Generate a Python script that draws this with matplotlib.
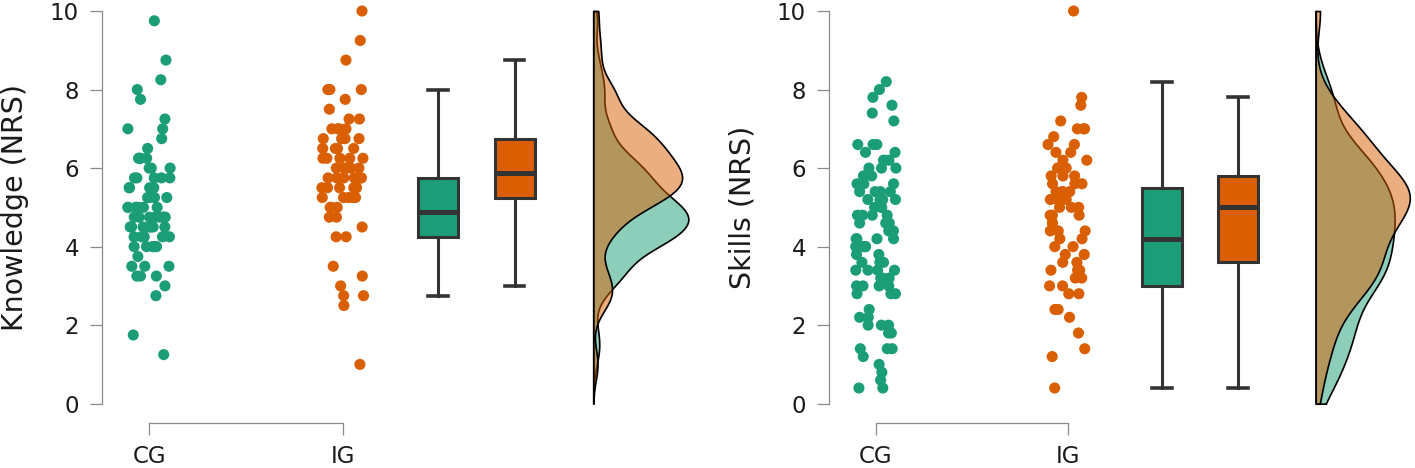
import numpy as np
import matplotlib
matplotlib.use("Agg")
import matplotlib.pyplot as plt

# ---------------- data ----------------
groups = ["CG", "IG"]
colors = ["#1b9e77", "#d95f02"]
ylabels = ["Knowledge (NRS)", "Skills (NRS)"]
yticks = [0, 2, 4, 6, 8, 10]

knowledge_cg = [9.75, 8.75, 8.25, 8.0, 7.75, 7.25, 7.0, 7.0, 6.75, 6.5,
                6.25, 6.25, 6.25, 6.25, 6.0, 6.0, 6.0,
                5.75, 5.75, 5.75, 5.75, 5.75, 5.5, 5.5, 5.5, 5.5,
                5.25, 5.25, 5.25, 5.25, 5.25,
                5.0, 5.0, 5.0, 5.0, 5.0, 5.0, 5.0,
                4.75, 4.75, 4.75, 4.75, 4.75, 4.75, 4.75, 4.75,
                4.5, 4.5, 4.5, 4.5, 4.5, 4.5, 4.5,
                4.25, 4.25, 4.25, 4.25, 4.25, 4.25,
                4.0, 4.0, 4.0, 4.0, 4.0, 4.0,
                3.75, 3.5, 3.5, 3.5, 3.25, 3.25, 3.25, 3.0, 2.75, 1.75, 1.25]

knowledge_ig = [10.0, 9.25, 8.75, 8.0, 8.0, 8.0, 7.75, 7.5, 7.25, 7.25,
                7.0, 7.0, 7.0, 7.0, 6.75, 6.75, 6.75, 6.75,
                6.5, 6.5, 6.5, 6.5, 6.25, 6.25, 6.25, 6.25, 6.25,
                6.0, 6.0, 6.0, 6.0, 6.0,
                5.75, 5.75, 5.75, 5.75, 5.75, 5.75,
                5.5, 5.5, 5.5, 5.5, 5.5, 5.5,
                5.25, 5.25, 5.25, 5.25, 5.25, 5.0, 5.0, 5.0,
                4.75, 4.75, 4.5, 4.25, 4.25,
                3.5, 3.25, 3.0, 2.75, 2.75, 2.5, 1.0]

skills_cg = [8.2, 8.0, 7.8, 7.6, 7.4, 7.2,
             6.6, 6.6, 6.6, 6.4, 6.4, 6.2, 6.2, 6.2, 6.0, 6.0, 6.0, 5.8, 5.8,
             5.6, 5.6, 5.6, 5.4, 5.4, 5.4, 5.4, 5.2, 5.2, 5.2, 5.2, 5.0, 5.0, 5.0,
             4.8, 4.8, 4.8, 4.8, 4.6, 4.6, 4.6, 4.4, 4.4, 4.4, 4.2, 4.2, 4.2, 4.2,
             4.0, 4.0, 4.0, 4.0, 3.8, 3.8, 3.6, 3.6, 3.6, 3.4, 3.4, 3.4, 3.4,
             3.2, 3.2, 3.2,
             3.0, 3.0, 3.0, 3.0, 2.8, 2.8, 2.8, 2.4, 2.2, 2.2, 2.0, 2.0, 2.0,
             1.8, 1.8,
             1.4, 1.4, 1.4, 1.2, 1.0, 0.8, 0.6, 0.4, 0.4]

skills_ig = [10.0, 7.8, 7.6, 7.2, 7.0, 7.0, 7.0, 6.8, 6.6, 6.6, 6.4, 6.4,
             6.2, 6.2, 6.0, 6.0,
             5.8, 5.8, 5.8, 5.6, 5.6, 5.6, 5.4, 5.4, 5.4, 5.4,
             5.2, 5.2, 5.2, 5.2, 5.0, 5.0, 5.0,
             4.8, 4.8, 4.8, 4.6, 4.6, 4.4, 4.4, 4.4, 4.2, 4.2, 4.0, 4.0,
             3.8, 3.8, 3.6, 3.6,
             3.4, 3.4, 3.4, 3.2, 3.2, 3.0, 3.0, 2.8, 2.8, 2.4, 2.4, 2.2,
             1.8, 1.4, 1.2, 0.4]

panels = [(knowledge_cg, knowledge_ig), (skills_cg, skills_ig)]

# ---------------- style / layout ----------------
W, H = 1415, 468
fig = plt.figure(figsize=(W / 100, H / 100), dpi=100)
plt.rcParams['font.family'] = ['DejaVu Sans']

spine_grey = "#8a8a8a"
dark = "#333333"
text_col = "#1a1a1a"

point_pos = [1.0, 2.0]
box_pos = [2.49, 2.885]
dens_base = 3.29
dens_width = 0.49

axes_px = [(102, 598, 194.0, 29), (829, 586, 192.0, 756)]  # left px, width px, px/unit, label right px
y0_px, y10_px = 403.7, 11.0

rng = np.random.default_rng(7)


def kde(data, grid, bw):
    data = np.asarray(data, float)
    z = (grid[:, None] - data[None, :]) / bw
    return np.exp(-0.5 * z ** 2).sum(axis=1) / (len(data) * bw * np.sqrt(2 * np.pi))


def nrd0(x):
    x = np.asarray(x, float)
    q75, q25 = np.percentile(x, [75, 25])
    lo = min(np.std(x, ddof=1), (q75 - q25) / 1.34)
    return 0.9 * lo * len(x) ** (-0.2)


for i, (dcg, dig) in enumerate(panels):
    left_px, width_px, ppu, lab_px = axes_px[i]
    bottom = (H - y0_px) / H
    height = (y0_px - y10_px) / H
    ax = fig.add_axes([left_px / W, bottom, width_px / W, height])
    spine_unit = 1.0 - 47.0 / ppu
    ax.set_xlim(spine_unit, spine_unit + width_px / ppu)
    ax.set_ylim(0, 10)

    data = [dcg, dig]
    # jittered points
    for k in range(2):
        vals = np.asarray(data[k], float)
        jit = rng.uniform(-0.11, 0.11, len(vals))
        ax.scatter(point_pos[k] + jit, vals, s=64, color=colors[k],
                   edgecolors='none', zorder=3, clip_on=False)

    # boxplots
    for k in range(2):
        ax.boxplot([data[k]], positions=[box_pos[k]], widths=0.205,
                   patch_artist=True, showfliers=False, whis=1.5,
                   manage_ticks=False, capwidths=0.1,
                   boxprops=dict(facecolor=colors[k], edgecolor=dark, linewidth=2.2),
                   medianprops=dict(color=dark, linewidth=3.6),
                   whiskerprops=dict(color=dark, linewidth=2.2),
                   capprops=dict(color=dark, linewidth=2.6))

    # half densities
    grid = np.linspace(0, 10, 600)
    dens = [kde(d, grid, 0.9 * nrd0(d)) for d in data]
    dmax = max(d.max() for d in dens)
    for k in range(2):
        wd = dens[k] / dmax * dens_width
        ax.fill_betweenx(grid, dens_base, dens_base + wd,
                         facecolor=matplotlib.colors.to_rgba(colors[k], 0.5),
                         edgecolor='black', linewidth=1.2, zorder=2, clip_on=False)

    # axes styling
    for s in ['top', 'right']:
        ax.spines[s].set_visible(False)
    ax.spines['left'].set_bounds(0, 10)
    ax.spines['bottom'].set_bounds(point_pos[0], point_pos[1])
    ax.spines['bottom'].set_position(('outward', 14))
    for s in ['left', 'bottom']:
        ax.spines[s].set_color(spine_grey)
        ax.spines[s].set_linewidth(0.9)
    ax.set_yticks(yticks)
    ax.set_xticks(point_pos)
    ax.set_xticklabels(groups)
    ax.tick_params(axis='both', colors=spine_grey, labelcolor=text_col,
                   labelsize=16.5, length=8.6, width=0.9)
    ax.tick_params(axis='y', pad=8)
    ax.tick_params(axis='x', pad=7)
    ax.set_ylabel(ylabels[i], fontsize=20.5, color=text_col)
    ax.yaxis.set_label_coords((lab_px - left_px) / width_px, 0.5)
    ax.patch.set_alpha(0)

fig.savefig("out.png", dpi=100)
